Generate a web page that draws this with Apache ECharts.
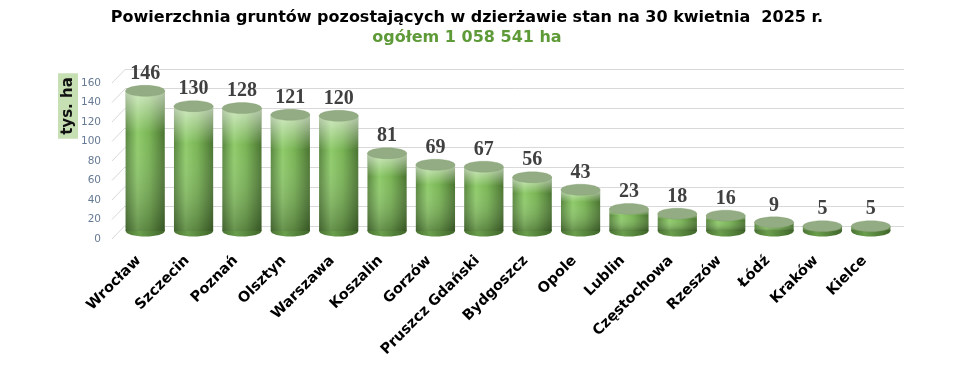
<!DOCTYPE html>
<html>
<head>
<meta charset="utf-8">
<script src="https://cdn.jsdelivr.net/npm/echarts@6/dist/echarts.min.js"></script>
<style>html,body{margin:0;padding:0;background:#fff;}#c{width:961px;height:371px;}</style>
</head>
<body>
<div id="c"></div>
<script>
const titleText = 'Powierzchnia gruntów pozostających w dzierżawie stan na 30 kwietnia  2025 r.';
const subtitleText = 'ogółem 1 058 541 ha';
const unitText = 'tys. ha';
const categories = ['Wrocław','Szczecin','Poznań','Olsztyn','Warszawa','Koszalin','Gorzów','Pruszcz Gdański','Bydgoszcz','Opole','Lublin','Częstochowa','Rzeszów','Łódź','Kraków','Kielce'];
const values = [146,130,128,121,120,81,69,67,56,43,23,18,16,9,5,5];
const yTicks = [0,20,40,60,80,100,120,140,160];

const chart = echarts.init(document.getElementById('c'), null, {renderer:'canvas'});

const hGrad = new echarts.graphic.LinearGradient(0,0,1,0,[
  {offset:0, color:'#5a8840'},
  {offset:0.3, color:'#8fcb6b'},
  {offset:0.6, color:'#79b455'},
  {offset:1, color:'#4a7431'}
]);
const vGrad = new echarts.graphic.LinearGradient(0,0,0,1,[
  {offset:0, color:'rgba(255,255,255,0.6)'},
  {offset:0.3, color:'rgba(255,255,255,0)'},
  {offset:1, color:'rgba(0,0,0,0.28)'}
]);
const baseGrad = new echarts.graphic.LinearGradient(0,0,1,0,[
  {offset:0, color:'#4a7431'},
  {offset:0.35, color:'#6a9e4c'},
  {offset:1, color:'#3f6629'}
]);

function renderCylinder(params, api){
  const idx = api.value(0);
  const v = api.value(1);
  const top = api.coord([idx, v]);
  const base = api.coord([idx, 0]);
  const bw = api.size([1,0])[0]*0.81;
  const rx = bw/2, ry = 5.5;
  const cx = top[0];
  const h = base[1]-top[1];
  return {type:'group', children:[
    {type:'ellipse', shape:{cx:cx, cy:base[1], rx:rx, ry:ry}, style:{fill:baseGrad}},
    {type:'rect', shape:{x:cx-rx, y:top[1], width:bw, height:h}, style:{fill:hGrad}},
    {type:'rect', shape:{x:cx-rx, y:top[1], width:bw, height:h}, style:{fill:vGrad}},
    {type:'ellipse', shape:{cx:cx, cy:top[1], rx:rx, ry:ry}, style:{fill:'#93ac84', stroke:'rgba(120,150,100,0.6)', lineWidth:0.5}},
    {type:'text', style:{text:String(v), x:cx, y:top[1]-17, align:'center', verticalAlign:'middle',
      font:'bold 20px "Liberation Serif"', fill:'#404040'}}
  ]};
}

function renderSlant(params, api){
  const p = api.coord([0, api.value(0)]);
  return {type:'line', shape:{x1:p[0], y1:p[1], x2:p[0]+13, y2:p[1]-13.5},
    style:{stroke:'#d9d9d9', lineWidth:1}};
}

chart.setOption({
  animation:false,
  backgroundColor:'#fff',
  graphic:[
    {type:'text', x:467, y:18, style:{text:titleText, align:'center', verticalAlign:'middle',
      font:'bold 16px "DejaVu Sans"', fill:'#000'}},
    {type:'text', x:467, y:38, style:{text:subtitleText, align:'center', verticalAlign:'middle',
      font:'bold 16px "DejaVu Sans"', fill:'#5e9a38'}},
    {type:'text', x:68, y:106, rotation:Math.PI/2, style:{text:unitText, align:'center', verticalAlign:'middle',
      font:'bold 15px "DejaVu Sans"', fill:'#111', backgroundColor:'#c6e0b4', padding:[3,4,2,4]}}
  ],
  grid:[
    {left:125, right:57, top:69, bottom:145},
    {left:121, right:66, top:77.4, bottom:140},
    {left:112, right:57, top:83, bottom:132}
  ],
  xAxis:[
    {gridIndex:0, type:'value', min:0, max:1, show:false},
    {gridIndex:1, type:'category', data:categories,
      axisLine:{show:false}, axisTick:{show:false},
      axisLabel:{rotate:45, interval:0, margin:21, padding:[0,9,0,0], color:'#000', fontWeight:'bold', fontSize:14.5, fontFamily:'DejaVu Sans'}},
    {gridIndex:2, type:'value', min:0, max:1, show:false}
  ],
  yAxis:[
    {gridIndex:0, type:'value', min:0, max:160, interval:20,
      axisLabel:{show:false}, axisLine:{show:false}, axisTick:{show:false},
      splitLine:{show:true, lineStyle:{color:'#d9d9d9', width:1}}},
    {gridIndex:1, type:'value', min:0, max:160, interval:20, show:false, splitLine:{show:false}},
    {gridIndex:2, type:'value', min:0, max:160, interval:20,
      axisLabel:{margin:11, color:'#667a94', fontSize:10.5, fontFamily:'DejaVu Sans'},
      axisLine:{show:false}, axisTick:{show:false}, splitLine:{show:false}}
  ],
  series:[
    {type:'custom', xAxisIndex:2, yAxisIndex:2, data:yTicks.map(function(t){return [t];}),
      encode:{y:0}, renderItem:renderSlant, silent:true},
    {type:'custom', xAxisIndex:1, yAxisIndex:1, data:values.map(function(v,i){return [i,v];}),
      encode:{x:0, y:1}, renderItem:renderCylinder}
  ]
});
</script>
</body>
</html>
